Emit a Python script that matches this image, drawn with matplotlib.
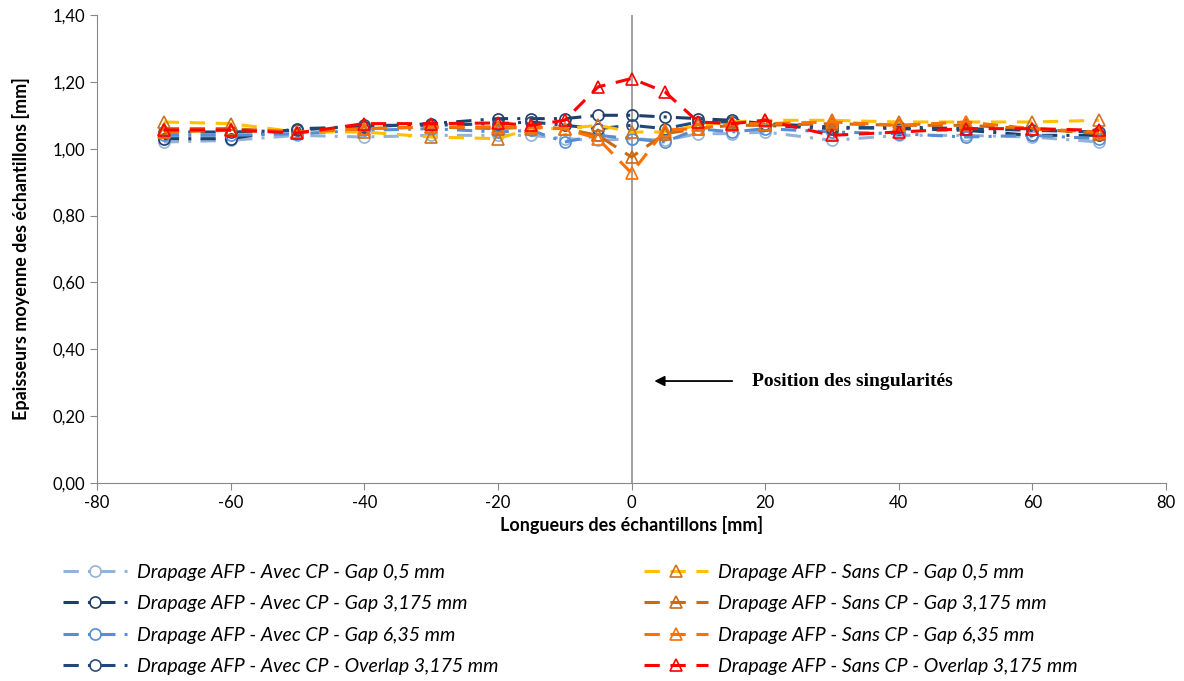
import numpy as np
import matplotlib.pyplot as plt
from matplotlib.ticker import FuncFormatter

# positions le long de l'echantillon [mm]
x = [-70, -60, -50, -40, -30, -20, -15, -10, -5, 0, 5, 10, 15, 20, 30, 40, 50, 60, 70]

# avec CP (cercles)
avec_gap05 = [1.02, 1.025, 1.04, 1.035, 1.04, 1.04, 1.04, 1.03, 1.025, 1.03, 1.025, 1.045, 1.045, 1.05, 1.025, 1.04, 1.04, 1.035, 1.02]
avec_gap3175 = [1.03, 1.03, 1.06, 1.065, 1.075, 1.09, 1.09, 1.09, 1.10, 1.10, 1.095, 1.09, 1.085, 1.075, 1.065, 1.06, 1.055, 1.04, 1.04]
avec_gap635 = [1.04, 1.04, 1.045, 1.055, 1.06, 1.05, 1.055, 1.02, 1.04, 1.03, 1.02, 1.06, 1.05, 1.06, 1.05, 1.045, 1.035, 1.04, 1.03]
avec_over = [1.05, 1.05, 1.055, 1.07, 1.07, 1.075, 1.08, 1.07, 1.06, 1.07, 1.06, 1.08, 1.08, 1.07, 1.06, 1.065, 1.06, 1.055, 1.05]

# sans CP (triangles)
sans_gap05 = [1.08, 1.075, 1.05, 1.05, 1.035, 1.03, 1.06, 1.06, 1.07, 1.05, 1.05, 1.07, 1.08, 1.085, 1.085, 1.08, 1.08, 1.08, 1.085]
sans_gap3175 = [1.06, 1.06, 1.05, 1.06, 1.065, 1.06, 1.065, 1.06, 1.04, 0.975, 1.045, 1.06, 1.07, 1.07, 1.075, 1.07, 1.07, 1.06, 1.045]
sans_gap635 = [1.05, 1.055, 1.05, 1.06, 1.065, 1.065, 1.065, 1.06, 1.03, 0.927, 1.056, 1.06, 1.075, 1.075, 1.08, 1.07, 1.08, 1.06, 1.05]
sans_over = [1.056, 1.056, 1.047, 1.075, 1.075, 1.077, 1.07, 1.085, 1.185, 1.21, 1.17, 1.08, 1.075, 1.085, 1.04, 1.05, 1.06, 1.06, 1.055]

labels_avec = ['Drapage AFP - Avec CP - Gap 0,5 mm',
               'Drapage AFP - Avec CP - Gap 3,175 mm',
               'Drapage AFP - Avec CP - Gap 6,35 mm',
               'Drapage AFP - Avec CP - Overlap 3,175 mm']
labels_sans = ['Drapage AFP - Sans CP - Gap 0,5 mm',
               'Drapage AFP - Sans CP - Gap 3,175 mm',
               'Drapage AFP - Sans CP - Gap 6,35 mm',
               'Drapage AFP - Sans CP - Overlap 3,175 mm']

col_avec = ['#95B3D7', '#1F3F6A', '#558ED5', '#1F497D']
edge_avec = ['#95B3D7', '#1F3F6A', '#558ED5', '#2C4D75']
col_sans = ['#FFC000', '#CC6A14', '#FF7000', '#FF0000']
edge_sans = ['#D07020', '#CC6A14', '#FF7000', '#FF0000']

plt.rcParams['font.family'] = ['Lato', 'DejaVu Sans']
plt.rcParams['axes.unicode_minus'] = False

fig = plt.figure(figsize=(11.84, 6.81), dpi=100)
ax = fig.add_axes([97/1184, 1-483/681, (1166-97)/1184, (483-15)/681])

ax.axvline(0, color='#999999', lw=1.3, zorder=0)

h_avec = []
for y, lab, c, e in zip([avec_gap05, avec_gap3175, avec_gap635, avec_over], labels_avec, col_avec, edge_avec):
    h, = ax.plot(x, y, color=c, lw=2.2, dashes=[5, 3, 1, 3], marker='o', ms=8,
                 mfc='none', mec=e, mew=1.2, label=lab)
    h_avec.append(h)
h_sans = []
for y, lab, c, e in zip([sans_gap05, sans_gap3175, sans_gap635, sans_over], labels_sans, col_sans, edge_sans):
    h, = ax.plot(x, y, color=c, lw=2.2, dashes=[5, 3.5], marker='^', ms=9,
                 mfc='none', mec=e, mew=1.2, label=lab)
    h_sans.append(h)

ax.set_xlim(-80, 80)
ax.set_ylim(0, 1.4)
ax.set_xticks(np.arange(-80, 81, 20))
ax.set_yticks(np.arange(0, 1.41, 0.2))
ax.yaxis.set_major_formatter(FuncFormatter(lambda v, p: '{:.2f}'.format(v).replace('.', ',')))
ax.tick_params(labelsize=12, color='#888888', length=5)
for s in ['top', 'right']:
    ax.spines[s].set_visible(False)
for s in ['left', 'bottom']:
    ax.spines[s].set_color('#888888')

ax.set_xlabel('Longueurs des échantillons [mm]', fontsize=13, fontweight='bold', labelpad=4)
ax.set_ylabel('Epaisseurs moyenne des échantillons [mm]', fontsize=13, fontweight='bold', labelpad=16)

ax.annotate('', xy=(3, 0.305), xytext=(15.5, 0.305),
            arrowprops=dict(arrowstyle='-|>', color='black', lw=1.3, mutation_scale=15))
ax.text(18, 0.305, 'Position des singularités', fontsize=14, fontweight='bold',
        family='Liberation Serif', va='center')

leg_kw = dict(loc='upper left', frameon=False, prop={'style': 'italic', 'size': 14},
              handlelength=3.3, handletextpad=0.5, labelspacing=0.74, borderaxespad=0)
fig.legend(handles=h_avec, bbox_to_anchor=(55/1184, 1-556/681), **leg_kw)
fig.legend(handles=h_sans, bbox_to_anchor=(636/1184, 1-556/681), **leg_kw)

fig.savefig('out.png', dpi=100)
